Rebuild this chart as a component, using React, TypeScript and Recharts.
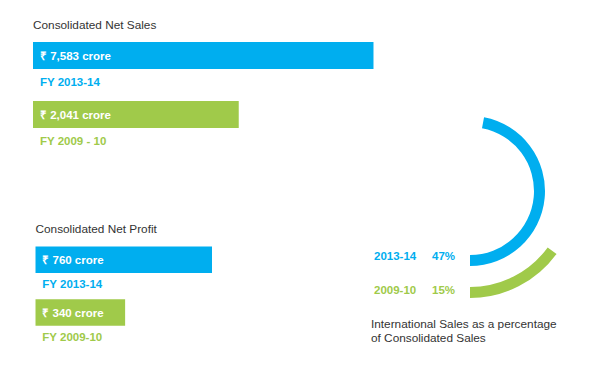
import React from 'react';
import { BarChart, Bar, XAxis, YAxis, Cell, LabelList, PieChart, Pie } from 'recharts';

const BLUE = '#00aeef';
const GREEN = '#a0ca4a';
const TEXT = '#333333';
const FONT = '"Liberation Sans", Arial, Helvetica, sans-serif';

// Consolidated net sales (₹ crore)
const salesYears = ['FY 2013-14', 'FY 2009 - 10'];
const salesValues = [7583, 2041];

// Consolidated net profit (₹ crore)
const profitYears = ['FY 2013-14', 'FY 2009-10'];
const profitValues = [760, 340];

// International sales as % of consolidated sales
const intlYears = ['2013-14', '2009-10'];
const intlShares = [47, 15];

const barColors = [BLUE, GREEN];

const salesData = salesYears.map((year, i) => ({ year, value: salesValues[i] }));
const profitData = profitYears.map((year, i) => ({ year, value: profitValues[i] }));

const renderValue = (props: any) => {
  const { x, y, height, value } = props;
  return (
    <text
      x={x + 7}
      y={y + height / 2}
      dy="0.36em"
      fill="#fff"
      fontSize={11.5}
      fontWeight="bold"
      fontFamily={FONT}
    >
      {`₹ ${Number(value).toLocaleString('en-IN')} crore`}
    </text>
  );
};

const makeYearLabel = (gap: number) => (props: any) => {
  const { x, y, height, value, index } = props;
  return (
    <text
      x={x + 7}
      y={y + height + gap}
      fill={barColors[index]}
      fontSize={11.5}
      fontWeight="bold"
      fontFamily={FONT}
    >
      {value}
    </text>
  );
};

const abs: React.CSSProperties = { position: 'absolute', left: 0, top: 0 };

export default function App() {
  return (
    <div style={{ position: 'absolute', left: 0, top: 0, width: 600, height: 373, background: '#fff' }}>
      <svg width={600} height={373} style={abs}>
        <g fontFamily={FONT} fill={TEXT}>
          <text x={33} y={29.3} fontSize={11.8}>Consolidated Net Sales</text>
          <text x={35.5} y={233.3} fontSize={11.8}>Consolidated Net Profit</text>
          <text x={371} y={328.3} fontSize={11.8}>International Sales as a percentage</text>
          <text x={371} y={341.7} fontSize={11.8}>of Consolidated Sales</text>
        </g>
        <g fontFamily={FONT} fontSize={11.5} fontWeight="bold">
          {intlYears.map((yr, i) => (
            <g key={yr} fill={barColors[i]}>
              <text x={374} y={259.8 + i * 34.2}>{yr}</text>
              <text x={432} y={259.8 + i * 34.2}>{`${intlShares[i]}%`}</text>
            </g>
          ))}
        </g>
      </svg>

      <div style={abs}>
        <BarChart
          width={600}
          height={373}
          data={salesData}
          layout="vertical"
          margin={{ top: 26, bottom: 229, left: 33, right: 226.3 }}
          barSize={27}
        >
          <XAxis type="number" scale="log" domain={[276, 7583]} allowDataOverflow hide />
          <YAxis type="category" dataKey="year" hide />
          <Bar dataKey="value" isAnimationActive={false}>
            {salesData.map((d, i) => (
              <Cell key={d.year} fill={barColors[i]} />
            ))}
            <LabelList dataKey="value" content={renderValue} />
            <LabelList dataKey="year" content={makeYearLabel(16.5)} />
          </Bar>
        </BarChart>
      </div>

      <div style={abs}>
        <BarChart
          width={600}
          height={373}
          data={profitData}
          layout="vertical"
          margin={{ top: 233.6, bottom: 34, left: 35.3, right: 388 }}
          barSize={26.5}
        >
          <XAxis type="number" scale="log" domain={[148, 760]} allowDataOverflow hide />
          <YAxis type="category" dataKey="year" hide />
          <Bar dataKey="value" isAnimationActive={false}>
            {profitData.map((d, i) => (
              <Cell key={d.year} fill={barColors[i]} />
            ))}
            <LabelList dataKey="value" content={renderValue} />
            <LabelList dataKey="year" content={makeYearLabel(15)} />
          </Bar>
        </BarChart>
      </div>

      <div style={abs}>
        <PieChart width={600} height={373}>
          {intlShares.map((share, i) => (
            <Pie
              key={intlYears[i]}
              data={[
                { name: intlYears[i], value: share },
                { name: 'rest', value: 100 - share },
              ]}
              dataKey="value"
              cx={465}
              cy={186}
              innerRadius={i === 0 ? 64 : 96}
              outerRadius={i === 0 ? 75 : 107}
              startAngle={-90}
              endAngle={270}
              stroke="none"
              isAnimationActive={false}
            >
              <Cell fill={barColors[i]} />
              <Cell fill="none" />
            </Pie>
          ))}
        </PieChart>
      </div>
    </div>
  );
}
